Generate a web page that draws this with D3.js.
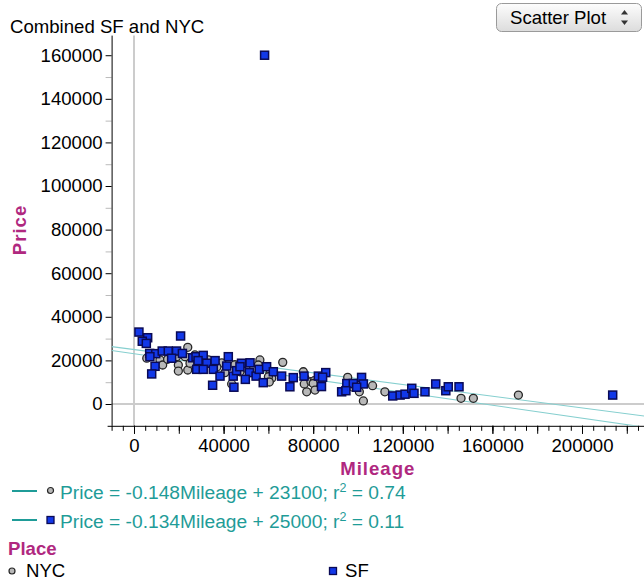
<!DOCTYPE html>
<html>
<head>
<meta charset="utf-8">
<script src="https://cdn.jsdelivr.net/npm/d3@7"></script>
<style>
  body { margin: 0; background: #fff; }
  svg { display: block; font-family: "Liberation Sans", Arial, sans-serif; }
</style>
</head>
<body>
<div id="chart"></div>
<script>
// values: [mileage, price]
const nycPoints = [
  [24000, 26000], [5700, 21000], [11600, 20200], [12800, 17900], [19800, 17900],
  [19800, 15100], [24000, 15600], [22800, 21700], [27200, 22500], [19000, 21700],
  [25000, 18700], [29500, 16300], [33200, 20200], [39200, 18900], [40600, 14400],
  [43600, 9200], [47300, 14800], [50300, 16300], [56200, 20200], [55500, 17900],
  [60700, 14100], [61500, 11800], [66400, 19100], [75600, 14800], [76300, 11800],
  [77100, 5600], [81600, 7900], [60000, 12500], [60400, 10100], [76000, 9200],
  [79000, 10200], [80500, 10700], [80000, 9400], [80800, 6400], [95400, 12200],
  [106500, 8400], [100600, 5600], [102400, 1400], [112000, 5600], [97800, 7700],
  [146000, 2600], [151500, 2600], [171600, 4100], [31000, 19000], [37000, 17000],
  [45000, 18000], [53000, 15500], [15000, 20500]
]
const sfPoints = [
  [2200, 33000], [6100, 30400], [3700, 28800], [5500, 27800], [20800, 31200],
  [7000, 23200], [9700, 23100], [12600, 24300], [15300, 24300], [19000, 24300],
  [21600, 23200], [7100, 21700], [16800, 21000], [9400, 17300], [7900, 13800],
  [26200, 21200], [27700, 21700], [30900, 22300], [28600, 19900], [32500, 18700],
  [28000, 15900], [30900, 15900], [35400, 15900], [36200, 19900], [42100, 21700],
  [41400, 17400], [38400, 12800], [35100, 8600], [44300, 12800], [44600, 7700],
  [45800, 15300], [48000, 18700], [51800, 18900], [51500, 14400], [49700, 11300],
  [54500, 12800], [55900, 15900], [59200, 17100], [62200, 14800], [65900, 12800],
  [57700, 9800], [69600, 7900], [71100, 12100], [75900, 12800], [82300, 12800],
  [58300, 160000], [85600, 14400], [84200, 12300], [83700, 8000], [101600, 12200],
  [95000, 9400], [97900, 9400], [102400, 9200], [99400, 7700], [92700, 5600],
  [94600, 6100], [115500, 3700], [118800, 4100], [121000, 4500], [124000, 7200],
  [125000, 4900], [129900, 5600], [134700, 9200], [139200, 6100], [140300, 7900],
  [145100, 7900], [213700, 4100], [47300, 17100]
]

// least squares lines as printed under the chart
const fitPlaces = ["NYC", "SF"]
const fitSlopes = [-0.148, -0.134]
const fitIntercepts = [23100, 25000]
const fitR2 = ["0.74", "0.11"]

const xLabelTicks = [0, 40000, 80000, 120000, 160000, 200000]
const yLabelTicks = [0, 20000, 40000, 60000, 80000, 100000, 120000, 140000, 160000]

const width = 644, height = 581
const plot = { left: 111.6, right: 649.2, top: 35.6, bottom: 425.8 }

const purple = "#b0287f"
const teal = "#1f9c98"
const fontSize = "18.6px"

const svg = d3.select("#chart").append("svg")
  .attr("width", width)
  .attr("height", height)

const defs = svg.append("defs")
defs.append("clipPath").attr("id", "plotclip")
  .append("rect")
  .attr("x", plot.left).attr("y", plot.top)
  .attr("width", plot.right - plot.left).attr("height", plot.bottom - plot.top)

const btnGrad = defs.append("linearGradient").attr("id", "btngrad")
  .attr("x1", 0).attr("y1", 0).attr("x2", 0).attr("y2", 1)
btnGrad.append("stop").attr("offset", "0%").attr("stop-color", "#fdfdfd")
btnGrad.append("stop").attr("offset", "100%").attr("stop-color", "#dcdcdc")

const x = d3.scaleLinear()
  .domain([-10000, 230000])
  .range([plot.left, plot.right])

const y = d3.scaleLinear()
  .domain([-10000, 169000])
  .range([plot.bottom, plot.top])

// zero lines
svg.append("line")
  .attr("x1", x(0)).attr("x2", x(0))
  .attr("y1", plot.top).attr("y2", plot.bottom)
  .attr("stroke", "#cccccc").attr("stroke-width", 2)
svg.append("line")
  .attr("x1", plot.left).attr("x2", plot.right)
  .attr("y1", y(0)).attr("y2", y(0))
  .attr("stroke", "#cccccc").attr("stroke-width", 2)

// AXES
const xMinor = d3.range(-10000, 230001, 5000)
svg.append("g")
  .attr("transform", "translate(0," + plot.bottom + ")")
  .call(d3.axisBottom(x).tickValues(xMinor).tickSize(5).tickFormat(""))
  .call(g => g.select(".domain").remove())

svg.append("g")
  .attr("transform", "translate(0," + plot.bottom + ")")
  .call(d3.axisBottom(x).tickValues(d3.range(-0, 230001, 20000)).tickSize(8).tickFormat(""))
  .call(g => g.select(".domain").remove())

svg.append("g")
  .attr("transform", "translate(0," + plot.bottom + ")")
  .call(d3.axisBottom(x).tickValues(xLabelTicks).tickSize(8).tickPadding(5).tickFormat(d3.format("d")))
  .call(g => g.select(".domain").attr("d", "M" + (plot.left - 4) + ",0.5H" + plot.right))
  .selectAll("text")
  .attr("fill", "#000")
  .style("font-size", fontSize)

svg.append("g")
  .attr("transform", "translate(" + plot.left + ",0)")
  .call(d3.axisLeft(y).tickValues(d3.range(10000, 169000, 20000)).tickSize(6).tickFormat(""))
  .call(g => g.select(".domain").remove())
  .selectAll("line").attr("stroke", "#bbbbbb")

svg.append("g")
  .attr("transform", "translate(" + plot.left + ",0)")
  .call(d3.axisLeft(y).tickValues(yLabelTicks).tickSize(6).tickPadding(3).tickFormat(d3.format("d")))
  .call(g => g.select(".domain").attr("d", "M0.5," + plot.top + "V" + plot.bottom))
  .selectAll("text")
  .attr("fill", "#000")
  .style("font-size", fontSize)

// fitted lines
const plotArea = svg.append("g").attr("clip-path", "url(#plotclip)")
plotArea.selectAll(".fit")
  .data(fitSlopes)
  .enter().append("line")
  .attr("class", "fit")
  .attr("x1", x(-10000))
  .attr("x2", x(230000))
  .attr("y1", (d, i) => y(d * -10000 + fitIntercepts[i]))
  .attr("y2", (d, i) => y(d * 230000 + fitIntercepts[i]))
  .attr("stroke", "#86cfcf")
  .attr("stroke-width", 1.1)

// POINTS
plotArea.selectAll(".nyc")
  .data(nycPoints)
  .enter().append("circle")
  .attr("class", "nyc")
  .attr("cx", d => x(d[0]))
  .attr("cy", d => y(d[1]))
  .attr("r", 4)
  .attr("fill", "#b8b8b8")
  .attr("stroke", "#262626")
  .attr("stroke-width", 1.3)

plotArea.selectAll(".sf")
  .data(sfPoints)
  .enter().append("rect")
  .attr("class", "sf")
  .attr("x", d => x(d[0]) - 4)
  .attr("y", d => y(d[1]) - 4)
  .attr("width", 8)
  .attr("height", 8)
  .attr("fill", "#1238e8")
  .attr("stroke", "#0a0a55")
  .attr("stroke-width", 1.5)

// TITLES
svg.append("text")
  .attr("x", 10).attr("y", 33)
  .style("font-size", fontSize)
  .text("Combined SF and NYC")

svg.append("text")
  .attr("x", (plot.left + 644) / 2).attr("y", 475)
  .attr("text-anchor", "middle")
  .attr("fill", purple)
  .style("font-size", fontSize).style("font-weight", "bold").style("letter-spacing", "1px")
  .text("Mileage")

svg.append("text")
  .attr("transform", "translate(26,230) rotate(-90)")
  .attr("text-anchor", "middle")
  .attr("fill", purple)
  .style("font-size", fontSize).style("font-weight", "bold").style("letter-spacing", "1px")
  .text("Price")

// button
const btn = svg.append("g").attr("transform", "translate(496,3)")
btn.append("rect")
  .attr("x", 0.5).attr("y", 0.5).attr("width", 145).attr("height", 28).attr("rx", 5)
  .attr("fill", "url(#btngrad)").attr("stroke", "#9a9a9a")
btn.append("text")
  .attr("x", 14).attr("y", 21)
  .style("font-size", fontSize)
  .text("Scatter Plot")
btn.append("path").attr("d", "M128.5,7 L132,11.5 L125,11.5 Z").attr("fill", "#333")
btn.append("path").attr("d", "M128.5,22 L132,17.5 L125,17.5 Z").attr("fill", "#333")

// LEGEND
const legendY = [491, 520]
const fitLegend = svg.selectAll(".fitlegend")
  .data(fitPlaces)
  .enter().append("g")
  .attr("class", "fitlegend")
  .attr("transform", (d, i) => "translate(0," + legendY[i] + ")")

fitLegend.append("line")
  .attr("x1", 12).attr("x2", 37)
  .attr("stroke", teal).attr("stroke-width", 2)

fitLegend.each(function(d) {
  const g = d3.select(this)
  if (d == "NYC") {
    g.append("circle").attr("cx", 50.5).attr("cy", -0.5).attr("r", 3)
      .attr("fill", "#b8b8b8").attr("stroke", "#262626").attr("stroke-width", 1.2)
  } else {
    g.append("rect").attr("x", 47).attr("y", -3.5).attr("width", 7).attr("height", 7)
      .attr("fill", "#1238e8").attr("stroke", "#0a0a55").attr("stroke-width", 1.3)
  }
})

const eq = fitLegend.append("text")
  .attr("x", 60).attr("y", 8)
  .attr("fill", teal)
  .style("font-size", "19.2px")
eq.append("tspan")
  .text((d, i) => "Price = " + fitSlopes[i] + "Mileage + " + fitIntercepts[i] + "; r")
eq.append("tspan")
  .attr("dy", -7).style("font-size", "12.5px")
  .text("2")
eq.append("tspan")
  .attr("dy", 7)
  .text((d, i) => " = " + fitR2[i])

svg.append("text")
  .attr("x", 8).attr("y", 555)
  .attr("fill", purple)
  .style("font-size", fontSize).style("font-weight", "bold")
  .text("Place")

svg.append("circle").attr("cx", 12).attr("cy", 571).attr("r", 3)
  .attr("fill", "#b8b8b8").attr("stroke", "#262626").attr("stroke-width", 1.2)
svg.append("text").attr("x", 26).attr("y", 577)
  .style("font-size", fontSize).text("NYC")

svg.append("rect").attr("x", 329.5).attr("y", 567.5).attr("width", 7).attr("height", 7)
  .attr("fill", "#1238e8").attr("stroke", "#0a0a55").attr("stroke-width", 1.3)
svg.append("text").attr("x", 345).attr("y", 577)
  .style("font-size", fontSize).text("SF")
</script>
</body>
</html>
